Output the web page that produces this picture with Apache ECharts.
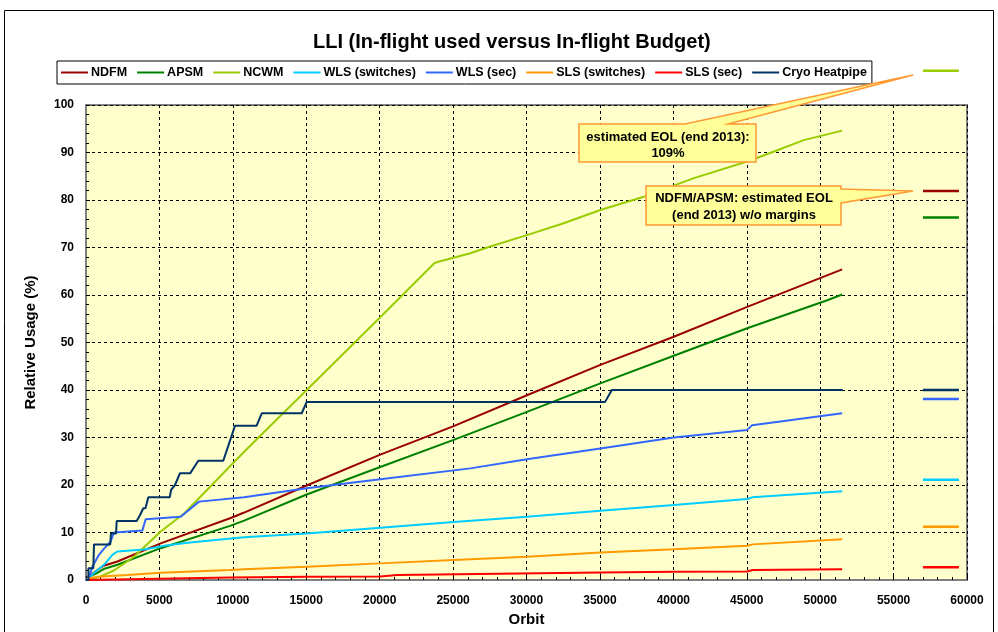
<!DOCTYPE html>
<html><head><meta charset="utf-8">
<script src="https://cdn.jsdelivr.net/npm/echarts@6/dist/echarts.min.js"></script>
<style>html,body{margin:0;padding:0;background:#fff}#c{width:998px;height:632px}</style>
</head><body><div id="c"></div>
<script>
// ---- data (orbit, relative usage %) ----
const seriesNames = ['NDFM','APSM','NCWM','WLS (switches)','WLS (sec)','SLS (switches)','SLS (sec)','Cryo Heatpipe'];
const seriesColors = ['#990000','#008000','#99CC00','#00CCFF','#3366FF','#FF9900','#FF0000','#003366'];

const NDFM = [[0,0],[300,1.0],[775,2.1],[1200,3.0],[2140,3.9],[5085,7.7],[9810,13.0],[10770,14.2],[15030,19.9],[20040,26.4],[25040,32.4],[30030,38.9],[35030,45.3],[40030,51.2],[45030,57.5],[51500,65.4]];
const APSM = [[0,0],[300,0.8],[775,1.5],[1200,2.3],[2140,3.2],[5085,6.7],[9810,11.4],[10770,12.5],[15030,18.0],[20040,23.8],[25040,29.5],[30030,35.4],[35030,41.4],[40030,47.2],[45030,53.0],[50480,58.9],[51500,60.1]];
const NCWM = [[0,0],[500,0.2],[950,0.7],[1900,2.0],[3270,4.9],[5085,10.2],[6680,14.0],[10770,27.0],[15030,40.0],[19970,55.1],[23720,66.7],[24000,67.0],[26170,68.8],[27530,70.2],[30030,72.6],[32530,75.1],[35030,77.9],[37990,80.7],[41400,84.6],[45030,88.1],[46500,89.8],[48880,92.6],[51500,94.6]];
const WLS_SW = [[0,0],[200,0.5],[636,1.75],[1226,3.2],[1794,5.3],[2135,6.0],[3950,6.4],[5540,7.3],[7085,7.9],[10763,9.0],[15030,9.8],[20040,11.0],[25040,12.2],[30030,13.3],[35030,14.6],[40030,15.8],[45030,17.05],[45370,17.4],[51500,18.7]];
const WLS_SEC = [[0,0],[204,0.5],[431,2.8],[885,5.3],[1200,6.5],[1680,8.1],[1907,10.0],[3837,10.4],[4064,12.8],[6449,13.3],[7697,16.5],[10763,17.4],[15030,19.3],[20040,21.2],[26170,23.5],[30030,25.4],[35030,27.7],[40030,30.0],[45030,31.6],[45370,32.6],[51500,35.1]];
const SLS_SW = [[0,0],[200,0.3],[775,0.7],[2800,1.05],[5085,1.55],[9810,2.1],[10763,2.25],[15030,2.8],[20040,3.5],[25040,4.2],[30030,4.9],[35030,5.8],[40030,6.45],[45030,7.2],[45400,7.5],[51500,8.6]];
const SLS_SEC = [[0,0],[2000,0.1],[2100,0.35],[9810,0.55],[15030,0.7],[20040,0.75],[21200,1.05],[35030,1.6],[40030,1.75],[45030,1.8],[45400,2.1],[51500,2.25]];
const CRYO = [[0,0],[160,0],[170,2.5],[500,2.5],[545,7.5],[1650,7.5],[1700,9.8],[2050,9.8],[2090,12.4],[3450,12.4],[3700,13.8],[3900,15.1],[4050,15.1],[4245,17.4],[5700,17.4],[5800,19.0],[6063,20.0],[6400,22.5],[7100,22.5],[7650,25.1],[9350,25.1],[10150,32.5],[11620,32.5],[11970,35.1],[14690,35.1],[15035,37.5],[35354,37.5],[35810,40.0],[51540,40.0]];

// estimated end-of-life markers (drawn at the right side)
const eolOrbits = [57000, 59450];
const eolValues = [81.9, 76.3, 107.2, 21.1, 38.1, 11.2, 2.7, 40.0];

const allData = [NDFM, APSM, NCWM, WLS_SW, WLS_SEC, SLS_SW, SLS_SEC, CRYO];

const FONT = 'Liberation Sans';
const chart = echarts.init(document.getElementById('c'), null, {renderer: 'canvas'});

const series = [];
allData.forEach((d, i) => {
  series.push({
    name: seriesNames[i], type: 'line', data: d, symbol: 'none', showSymbol: false,
    lineStyle: {color: seriesColors[i], width: 2}, itemStyle: {color: seriesColors[i]},
    z: 2 + i * 0.01
  });
});
eolValues.forEach((v, i) => {
  series.push({
    name: seriesNames[i] + ' EOL', type: 'line', data: eolOrbits.map(o => [o, v]),
    symbol: 'none', clip: false, lineStyle: {color: seriesColors[i], width: 2.5},
    itemStyle: {color: seriesColors[i]}, z: 3
  });
});

const calloutStyle = {fill: '#FFFF99', stroke: '#FF9933', lineWidth: 1.5};
const textStyleCall = {fontFamily: FONT, fontWeight: 'bold', fontSize: 13, fill: '#000', textAlign: 'center'};

chart.setOption({
  animation: false,
  backgroundColor: '#fff',
  title: {
    text: 'LLI (In-flight used versus In-flight Budget)', left: 308, top: 27,
    textStyle: {fontFamily: FONT, fontWeight: 'bold', fontSize: 20, color: '#000'}
  },
  legend: {
    data: seriesNames, left: 57, top: 61, padding: [5, 5, 5, 4], itemGap: 10,
    icon: 'rect', itemWidth: 27, itemHeight: 2, backgroundColor: '#fff', borderColor: '#000', borderWidth: 1,
    textStyle: {fontFamily: FONT, fontWeight: 'bold', fontSize: 12.5, color: '#000', padding: [0, 0, 0, -2]}
  },
  grid: {
    left: 86, right: 31, top: 105, bottom: 52, show: true,
    backgroundColor: '#FFFFCC', borderColor: '#808080', borderWidth: 2
  },
  xAxis: {
    type: 'value', min: 0, max: 60000, interval: 5000,
    name: 'Orbit', nameLocation: 'middle', nameGap: 32,
    nameTextStyle: {fontFamily: FONT, fontWeight: 'bold', fontSize: 15, color: '#000'},
    axisLine: {show: true, lineStyle: {color: '#808080', width: 2}},
    axisTick: {show: true, inside: true, length: 4, lineStyle: {color: '#000'}},
    minorTick: {show: true, splitNumber: 5, length: 3, lineStyle: {color: '#000'}},
    axisLabel: {fontFamily: FONT, fontWeight: 'bold', fontSize: 12, color: '#000', margin: 15, formatter: v => String(v)},
    splitLine: {show: true, lineStyle: {color: '#000', type: [3, 3], width: 1}}
  },
  yAxis: {
    type: 'value', min: 0, max: 100, interval: 10,
    name: 'Relative Usage (%)', nameLocation: 'middle', nameGap: 48,
    nameTextStyle: {fontFamily: FONT, fontWeight: 'bold', fontSize: 15, color: '#000'},
    axisLine: {show: true, lineStyle: {color: '#808080', width: 2}},
    axisTick: {show: true, inside: true, length: 4, lineStyle: {color: '#000'}},
    minorTick: {show: true, splitNumber: 5, length: 3, lineStyle: {color: '#000'}},
    axisLabel: {fontFamily: FONT, fontWeight: 'bold', fontSize: 12, color: '#000', margin: 12},
    splitLine: {show: true, lineStyle: {color: '#000', type: [3, 3], width: 1}}
  },
  series: series,
  graphic: [
    {type: 'rect', shape: {x: 4.5, y: 10.5, width: 989, height: 640}, style: {fill: 'none', stroke: '#000', lineWidth: 1}, z: 100, silent: true},
    {type: 'polygon', shape: {points: [[579,124],[685,124],[913,75],[728,124],[756,124],[756,162],[579,162]]}, style: calloutStyle, z: 50},
    {type: 'text', x: 668, y: 129, style: Object.assign({text: 'estimated EOL (end 2013):\n109%', lineHeight: 16}, textStyleCall), z: 51},
    {type: 'polygon', shape: {points: [[646,186],[841,186],[841,189],[913,191],[841,203],[841,225],[646,225]]}, style: calloutStyle, z: 50},
    {type: 'text', x: 744, y: 190, style: Object.assign({text: 'NDFM/APSM: estimated EOL\n(end 2013) w/o margins', lineHeight: 17}, textStyleCall), z: 51}
  ]
});
</script></body></html>
